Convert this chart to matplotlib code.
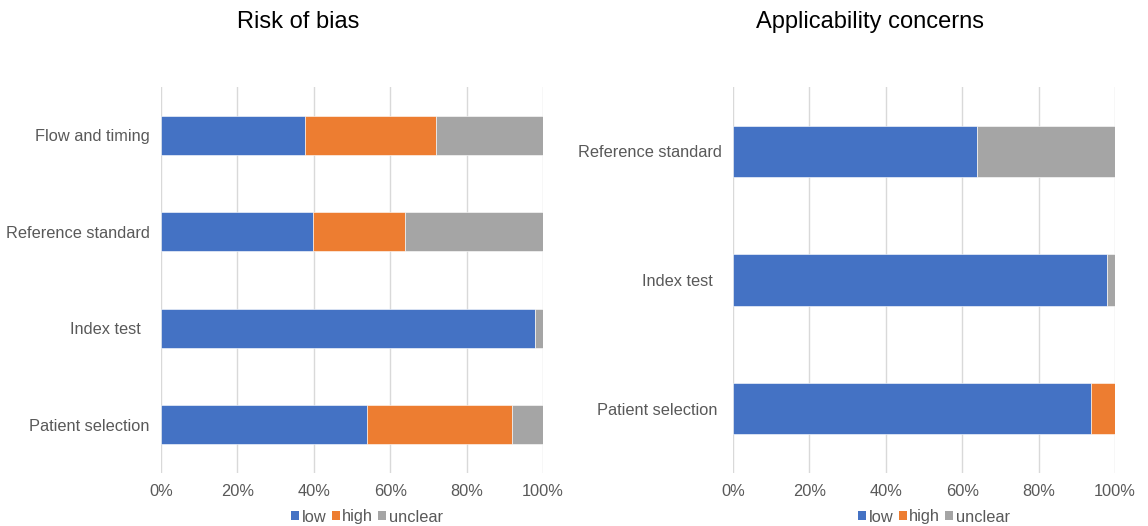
import matplotlib
matplotlib.use("Agg")
import matplotlib.pyplot as plt
import numpy as np
from matplotlib.patches import Patch

plt.rcParams['font.family'] = ['Liberation Sans', 'DejaVu Sans']

# risk of bias (percent of studies), bottom to top
rob_labels = ['Patient selection', 'Index test  ', 'Reference standard', 'Flow and timing']
rob_low = [53.9, 97.8, 39.8, 37.8]
rob_high = [37.9, 0.0, 24.1, 34.1]
rob_unclear = [8.2, 2.2, 36.1, 28.1]

# applicability concerns, bottom to top
app_labels = ['Patient selection ', 'Index test  ', 'Reference standard']
app_low = [93.8, 97.8, 63.9]
app_high = [6.2, 0.0, 0.0]
app_unclear = [0.0, 2.2, 36.1]

series_names = ['low', 'high', 'unclear']
colors = ['#4472C4', '#ED7D31', '#A5A5A5']
text_col = '#595959'

fig = plt.figure(figsize=(11.48, 5.26), dpi=100)


def stacked(ax, labels, low, high, unclear):
    y = np.arange(len(labels))
    left = np.zeros(len(labels))
    for vals, c in zip([low, high, unclear], colors):
        vals = np.array(vals)
        ax.barh(y, vals, left=left, height=0.4, color=c,
                edgecolor='white', linewidth=0.4, zorder=3)
        left += vals
    ax.set_yticks(y)
    ax.set_yticklabels(labels, fontsize=11.8, color=text_col)
    ax.set_ylim(-0.5, len(labels) - 0.5)
    ax.set_xlim(0, 100)
    ax.set_xticks(np.arange(0, 101, 20))
    ax.set_xticklabels(['%d%%' % t for t in range(0, 101, 20)],
                       fontsize=11.8, color=text_col)
    ax.tick_params(length=0, axis='y', pad=8)
    ax.tick_params(length=0, axis='x', pad=8)
    ax.grid(axis='x', color='#D9D9D9', linewidth=1, zorder=0)
    for s in ax.spines.values():
        s.set_visible(False)


ax1 = fig.add_axes([161 / 1148, 1 - 473 / 526, 382 / 1148, 386 / 526])
stacked(ax1, rob_labels, rob_low, rob_high, rob_unclear)
ax2 = fig.add_axes([733 / 1148, 1 - 473 / 526, 382 / 1148, 386 / 526])
stacked(ax2, app_labels, app_low, app_high, app_unclear)

fig.text(298 / 1148, 1 - 22 / 526, 'Risk of bias', ha='center', va='center',
         fontsize=17, color='black')
fig.text(870 / 1148, 1 - 22 / 526, 'Applicability concerns', ha='center',
         va='center', fontsize=17, color='black')

handles = [Patch(facecolor=c, edgecolor='none') for c in colors]
for cx in [367, 934]:
    fig.legend(handles, series_names, loc='center',
               bbox_to_anchor=(cx / 1148, 1 - 517 / 526), ncol=3,
               frameon=False, fontsize=11.8, handlelength=0.5,
               handleheight=0.5, handletextpad=0.15, columnspacing=0.3,
               labelcolor=text_col)

fig.savefig('out.png', dpi=100)
